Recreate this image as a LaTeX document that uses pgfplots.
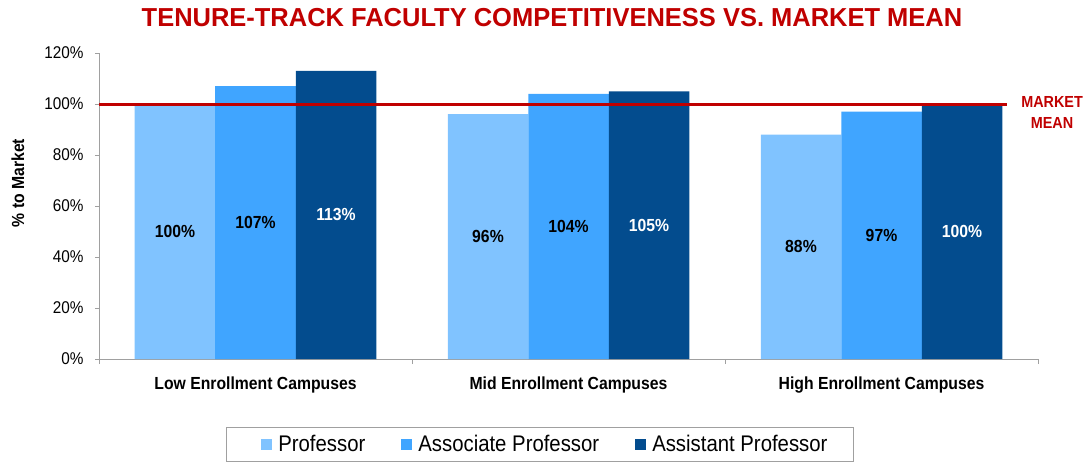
\documentclass[border=0pt]{standalone}
\usepackage{fontspec}
\setmainfont{Liberation Sans}[FakeStretch=0.9]
\newfontfamily\titlefont{Liberation Sans}[FakeStretch=0.98]
\usepackage{pgfplots}
\pgfplotsset{compat=1.18}
\definecolor{cProf}{RGB}{128,195,255}
\definecolor{cAssoc}{RGB}{64,165,255}
\definecolor{cAsst}{RGB}{3,76,142}
\definecolor{cRed}{RGB}{192,0,0}
\definecolor{cAxis}{RGB}{160,160,160}
\begin{document}
\begin{tikzpicture}
\path[use as bounding box] (-99pt,-105pt) rectangle (988pt,359pt);
\begin{axis}[
  at={(0pt,0pt)}, anchor=south west,
  scale only axis, width=939pt, height=306pt,
  xmin=-0.5, xmax=2.5, ymin=0, ymax=120,
  axis x line*=bottom, axis y line*=left,
  axis line style={-, draw=cAxis, line width=0.8pt},
  clip=false,
  tick align=outside,
  /pgf/number format/assume math mode=true,
  xtick={0,1,2},
  xticklabels={Low Enrollment Campuses, Mid Enrollment Campuses, High Enrollment Campuses},
  xticklabel style={font=\bfseries\fontsize{17.5}{17.5}\selectfont, yshift=-10pt},
  major x tick style={draw=none},
  minor xtick={-0.5,0.5,1.5,2.5},
  minor tick length=5pt,
  major tick length=4pt,
  tick style={draw=cAxis, line width=0.8pt},
  ytick={0,20,40,60,80,100,120},
  yticklabels={0\%,20\%,40\%,60\%,80\%,100\%,120\%},
  yticklabel style={font=\fontsize{17}{17}\selectfont, xshift=-8pt},
  ylabel={\% to Market},
  ylabel style={font=\bfseries\fontsize{17.5}{17.5}\selectfont, at={(axis description cs:-0.0863,0.575)}, anchor=center},
  title={\titlefont\bfseries TENURE-TRACK FACULTY COMPETITIVENESS VS. MARKET MEAN},
  title style={font=\fontsize{26}{26}\selectfont, text=cRed, at={(axis description cs:0.4824,1.096)}, anchor=center},
  bar width=80.5pt,
  nodes near coords={\pgfmathprintnumber{\pgfplotspointmeta}\%},
  point meta=y,
  visualization depends on={y \as \rawy},
  every node near coord/.append style={anchor=center, font=\bfseries\fontsize{17.5}{17.5}\selectfont, shift={(axis direction cs:0,-\rawy/2)}},
  legend style={at={(axis description cs:0.1352,-0.222)}, anchor=north west, legend columns=3, draw=cAxis, line width=0.8pt,
    font=\fontsize{22.6}{22.6}\selectfont, inner xsep=24pt, inner ysep=6pt,
    /tikz/every even column/.append style={column sep=23pt}},
  legend image code/.code={\path (0pt,0pt) (26pt,0pt); \fill[#1] (11pt,-5.5pt) rectangle (22pt,5.5pt);},
]
\addplot[ybar, bar shift=-80.5pt, fill=cProf, draw=none, every node near coord/.append style={xshift=-80.5pt}] coordinates {(0,100) (1,96) (2,88)};
\addplot[ybar, bar shift=0pt, fill=cAssoc, draw=none] coordinates {(0,107) (1,104) (2,97)};
\addplot[ybar, bar shift=80.5pt, fill=cAsst, draw=none, every node near coord/.append style={text=white, xshift=80.5pt}] coordinates {(0,113) (1,105) (2,100)};
\legend{Professor, Associate Professor, Assistant Professor}
\addplot[cRed, line width=3pt, forget plot, no markers, nodes near coords={}] coordinates {(-0.5,100) (2.401,100)};
\node[text=cRed, font=\bfseries\fontsize{16}{20.5}\selectfont, align=center] at (axis cs:2.545,96.7) {MARKET\\MEAN};
\end{axis}
\end{tikzpicture}
\end{document}
